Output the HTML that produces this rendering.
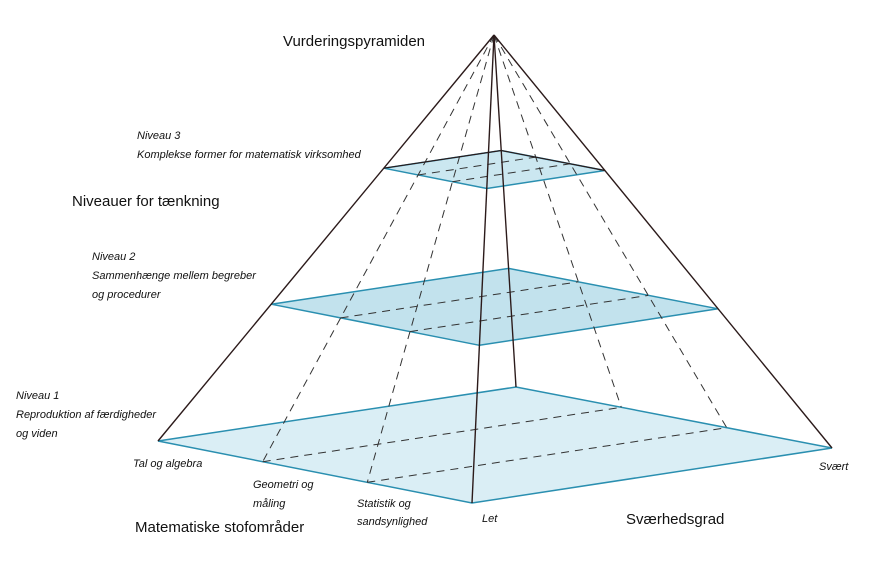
<!DOCTYPE html>
<html><head><meta charset="utf-8"><style>
html,body{margin:0;padding:0;background:#fff;}
svg{display:block;}
text{font-family:"Liberation Sans",sans-serif;fill:#111;}
.i{font-style:italic;font-size:11px;}
.h{font-size:15px;}
</style></head><body>
<svg width="885" height="566" viewBox="0 0 885 566" xmlns="http://www.w3.org/2000/svg">
<g stroke="#2a8fb0" stroke-width="1.5">
<polygon points="158,441 472,503 832,448 516,387" fill="#daeef5"/>
<polygon points="271.2,304.2 479.4,345.3 718.1,308.8 508.6,268.4" fill="#c2e2ed"/>
<polygon points="383.8,168.2 486.8,188.5 604.9,170.5 501.2,150.5" fill="#cbe7f0"/>
</g>
<g stroke="#333" stroke-width="1" stroke-dasharray="8,6" fill="none">
<line x1="494" y1="35" x2="262.7" y2="461.7"/>
<line x1="494" y1="35" x2="367.3" y2="482.3"/>
<line x1="494" y1="35" x2="621.3" y2="407.3"/>
<line x1="494" y1="35" x2="726.7" y2="427.7"/>
<line x1="262.7" y1="461.7" x2="621.3" y2="407.3"/>
<line x1="367.3" y1="482.3" x2="726.7" y2="427.7"/>
<line x1="340.6" y1="317.9" x2="578.4" y2="281.8"/>
<line x1="410" y1="331.6" x2="648.3" y2="295.4"/>
<line x1="418.1" y1="175" x2="535.8" y2="157.1"/>
<line x1="452.4" y1="181.7" x2="570.3" y2="163.8"/>
</g>
<g stroke="#2b1a1a" stroke-width="1.4" fill="none">
<line x1="494" y1="35" x2="158" y2="441"/>
<line x1="494" y1="35" x2="472" y2="503"/>
<line x1="494" y1="35" x2="832" y2="448"/>
<line x1="494" y1="35" x2="516" y2="387"/>
<polyline points="383.8,168.2 501.2,150.5 604.9,170.5" stroke-width="1.2"/>
</g>
<text class="h" x="283" y="46">Vurderingspyramiden</text>
<text class="h" x="72" y="206">Niveauer for tænkning</text>
<text class="h" x="135" y="532">Matematiske stofområder</text>
<text class="h" x="626" y="524">Sværhedsgrad</text>
<text class="i" x="137" y="139">Niveau 3</text>
<text class="i" x="137" y="158">Komplekse former for matematisk virksomhed</text>
<text class="i" x="92" y="260">Niveau 2</text>
<text class="i" x="92" y="279">Sammenhænge mellem begreber</text>
<text class="i" x="92" y="298">og procedurer</text>
<text class="i" x="16" y="399">Niveau 1</text>
<text class="i" x="16" y="418">Reproduktion af færdigheder</text>
<text class="i" x="16" y="437">og viden</text>
<text class="i" x="133" y="467">Tal og algebra</text>
<text class="i" x="253" y="488">Geometri og</text>
<text class="i" x="253" y="507">måling</text>
<text class="i" x="357" y="507">Statistik og</text>
<text class="i" x="357" y="525">sandsynlighed</text>
<text class="i" x="482" y="522">Let</text>
<text class="i" x="819" y="470">Svært</text>
</svg>
</body></html>
